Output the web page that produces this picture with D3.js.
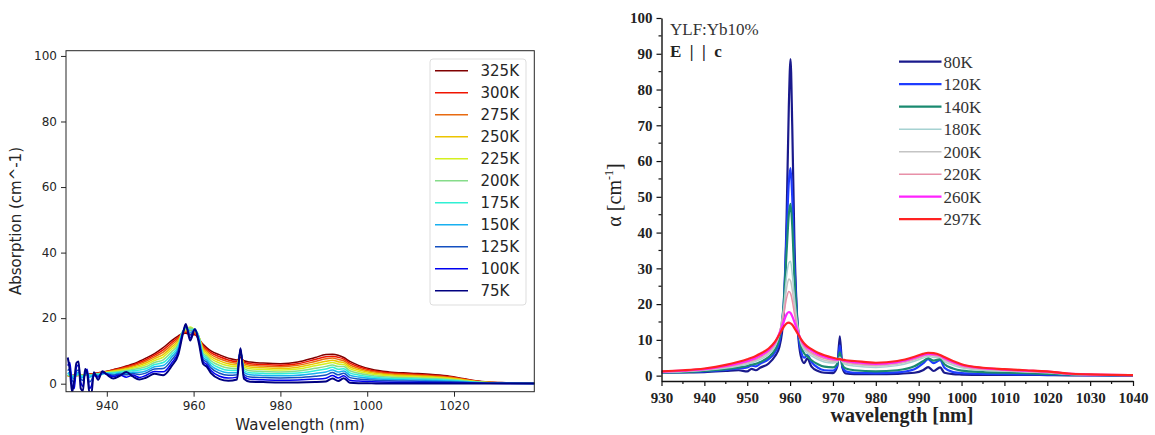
<!DOCTYPE html>
<html><head><meta charset="utf-8">
<script src="https://cdn.jsdelivr.net/npm/d3@7"></script>
<style>body{margin:0;background:#fff}svg{display:block}</style></head>
<body><svg id="chart" width="1155" height="435"></svg>
<script>
// ---------- LEFT PANEL DATA ----------
const leftWavelength = [931,931.5,932,932.5,933,933.5,934,934.5,935,935.5,936,936.5,937,938,939,940,941.5,943,944.5,946,947.5,949,951,953,955,956.5,957.5,958.2,959.2,960.3,961.2,962.2,963,964,966,968,970,970.8,971.6,973,976,980,984,988,990.5,992,993.3,994.6,996,998,1001,1005,1010,1015,1019,1022,1025,1028,1032,1039];
const leftTemps = ["325K","300K","275K","250K","225K","200K","175K","150K","125K","100K","75K"];
const abs325K = [2.4,2.45,2.5,2.55,2.6,2.65,2.7,2.75,2.8,2.9,3.0,3.05,3.1,3.3,3.55,3.8,4.3,4.8,5.4,6.0,6.85,7.8,9.2,11.0,13.2,14.6,15.3,15.4,15.0,14.9,13.6,12.0,11.0,10.0,8.8,7.8,7.2,8.0,7.0,6.6,6.3,6.1,6.6,8.0,8.9,9.0,8.7,8.0,6.8,5.6,4.4,3.6,3.2,2.8,2.3,1.6,0.9,0.5,0.3,0.15];
const abs300K = [2.4,2.45,2.5,2.5,2.5,2.55,2.6,2.65,2.7,2.8,2.9,2.95,3.0,3.2,3.45,3.72,4.15,4.61,5.15,5.70,6.45,7.32,8.70,10.33,12.58,14.15,15.4,15.7,15.6,15.2,13.9,11.52,10.54,9.46,8.21,7.25,6.73,8.4,6.56,6.12,5.84,5.64,6.1,7.4,8.24,8.41,8.07,7.5,6.28,5.16,4.06,3.32,2.95,2.58,2.12,1.48,0.83,0.46,0.28,0.14];
const abs275K = [2.4,2.4,2.4,2.45,2.5,2.55,2.6,2.65,2.7,2.75,2.8,2.85,2.9,3.1,3.35,3.64,4.0,4.42,4.9,5.39,6.05,6.84,8.21,9.66,11.97,13.7,15.6,16.0,16.3,15.6,14.2,11.04,10.07,8.91,7.62,6.7,6.26,8.8,6.12,5.64,5.37,5.19,5.61,6.8,7.59,7.82,7.44,6.99,5.76,4.73,3.71,3.03,2.7,2.36,1.94,1.35,0.76,0.43,0.26,0.13];
const abs250K = [2.4,2.4,2.4,2.45,2.5,2.5,2.5,2.55,2.6,2.65,2.7,2.75,2.8,3.0,3.3,3.55,3.85,4.2,4.6,5.05,5.6,6.3,7.65,8.9,11.28,13.2,15.8,16.3,17.0,16.0,14.4,10.5,9.55,8.3,6.95,6.08,5.73,9.2,5.63,5.1,4.85,4.68,5.05,6.13,6.85,7.15,6.73,6.43,5.18,4.24,3.33,2.71,2.41,2.11,1.74,1.21,0.69,0.39,0.24,0.12];
const abs225K = [2.5,2.45,2.4,2.5,2.6,2.55,2.5,2.6,2.7,2.65,2.6,2.7,2.8,2.9,3.2,3.46,3.7,3.98,4.3,4.71,5.2,5.76,7.09,8.14,10.58,12.7,15.9,16.6,17.3,16.3,14.5,9.96,9.03,7.69,6.28,5.45,5.19,9.5,5.13,4.56,4.33,4.16,4.49,5.45,6.11,6.48,6.01,5.86,4.59,3.75,2.94,2.39,2.13,1.87,1.54,1.07,0.61,0.35,0.22,0.11];
const abs200K = [2.5,2.6,2.5,2.4,2.6,2.7,2.6,2.5,2.7,2.9,2.8,2.7,2.9,3.0,3.2,3.36,3.5,3.74,4.0,4.33,4.7,5.16,6.47,7.3,9.81,12.14,16.0,16.8,17.0,16.5,14.5,9.36,8.45,7.01,5.54,4.76,4.6,9.8,4.58,3.96,3.75,3.59,3.87,4.7,5.29,5.74,5.22,5.23,3.94,3.2,2.51,2.04,1.81,1.59,1.31,0.92,0.53,0.3,0.19,0.1];
const abs175K = [2.6,2.8,2.4,2.2,2.7,2.9,2.5,2.3,2.7,3.0,2.6,2.5,2.8,2.9,3.1,3.26,3.3,3.5,3.7,3.95,4.2,4.56,5.85,6.46,9.04,11.58,16.0,17.0,16.4,16.6,14.3,8.76,7.87,6.33,4.8,4.07,4.01,10.0,4.03,3.36,3.17,3.02,3.25,3.95,4.47,5.0,4.43,4.6,3.29,2.66,2.08,1.68,1.5,1.32,1.09,0.76,0.44,0.26,0.17,0.09];
const abs150K = [3.0,3.6,2.0,1.6,3.0,3.4,2.2,1.8,2.8,3.2,2.0,2.3,2.8,2.6,2.9,3.15,2.9,3.24,3.2,3.53,3.5,3.9,5.17,5.54,8.2,10.96,15.8,17.2,15.6,16.6,14.0,8.1,7.23,5.58,3.99,3.32,3.37,10.2,3.43,2.7,2.53,2.4,2.57,3.13,3.57,4.19,3.57,3.91,2.58,2.06,1.6,1.29,1.15,1.01,0.84,0.59,0.34,0.21,0.14,0.08];
const abs125K = [4.0,4.6,1.0,0.4,3.8,4.2,1.5,1.0,3.0,3.6,0.5,1.2,2.8,2.3,3.3,3.04,2.6,2.98,2.7,3.11,2.8,3.24,4.49,4.62,7.35,10.34,15.6,17.4,14.8,16.6,13.5,7.44,6.59,4.83,3.18,2.56,2.72,10.4,2.82,2.04,1.89,1.77,1.89,2.3,2.67,3.38,2.7,3.21,1.86,1.46,1.13,0.9,0.81,0.71,0.59,0.42,0.25,0.16,0.11,0.07];
const abs100K = [5.5,6.5,-0.5,-1.5,5.0,5.8,0.5,-0.8,3.5,4.4,-1.5,-0.5,2.5,2.0,3.5,2.92,2.2,2.69,2.0,2.66,1.9,2.52,3.74,3.61,6.42,9.67,15.3,17.8,14.0,16.6,13.0,6.72,5.9,4.02,2.29,1.73,2.01,10.6,2.16,1.32,1.2,1.08,1.14,1.4,1.68,2.49,1.75,2.46,1.08,0.8,0.62,0.48,0.43,0.38,0.32,0.23,0.15,0.1,0.08,0.06];
const abs75K = [8.0,4.0,-2.5,1.0,6.3,6.8,-1.5,-2.2,4.5,3.0,-2.8,-2.5,3.5,1.2,3.8,2.8,1.6,2.4,3.6,2.2,1.3,1.8,3.0,2.6,5.5,9.0,15.0,18.2,13.2,16.6,12.5,6.0,5.2,3.2,1.4,0.9,1.3,10.8,1.5,0.6,0.5,0.4,0.4,0.5,0.7,1.6,0.8,1.7,0.3,0.15,0.1,0.05,0.05,0.05,0.05,0.05,0.05,0.05,0.05,0.05];
const leftXTicks = [940,960,980,1000,1020];
const leftYTicks = [0,20,40,60,80,100];

// ---------- RIGHT PANEL DATA ----------
const rightWavelength = [930,935,940,945,948,950,951,952,953,955,956.5,957.5,958.5,959.2,959.7,960.1,960.5,961,961.7,962.5,963.3,964,965,966.5,968,970,971,971.6,972.2,973,975,980,985,989,991,992.2,993.5,995,996,998,1000,1005,1010,1015,1020,1025,1030,1035,1040];
const rightTemps = ["80K","120K","140K","180K","200K","220K","260K","297K"];
const alpha80K  = [0.9,0.9,1.0,1.3,1.5,1.2,1.9,1.5,2.2,3.4,5.5,8.0,17.0,45.0,75.0,88.5,70.0,38.0,15.0,5.5,3.5,4.8,2.5,1.3,0.8,0.7,2.5,11.0,2.2,0.6,0.4,0.4,0.5,0.8,1.5,2.4,1.3,2.3,0.8,0.4,0.3,0.2,0.2,0.2,0.15,0.1,0.1,0.1,0.1];
const alpha120K = [0.9,1.0,1.2,1.6,2.0,2.3,2.8,2.6,3.3,4.6,6.6,9.5,20.0,40.0,54.0,58.0,50.0,32.0,15.0,7.0,5.0,5.8,3.8,2.2,1.5,1.4,2.8,8.5,2.5,1.2,0.8,0.7,0.9,1.8,3.4,4.6,3.5,4.3,2.2,1.0,0.7,0.5,0.4,0.35,0.3,0.2,0.15,0.1,0.1];
const alpha140K = [0.9,1.0,1.3,1.8,2.3,2.7,3.1,3.3,3.8,5.2,7.3,10.5,20.0,35.0,45.0,48.0,42.0,28.0,15.0,8.5,6.2,5.4,4.3,3.2,2.5,2.3,3.2,6.5,3.0,2.0,1.5,1.2,1.5,2.6,4.0,4.8,4.2,4.6,3.2,2.0,1.4,1.0,0.8,0.7,0.5,0.3,0.2,0.12,0.1];
const alpha180K = [0.9,1.1,1.5,2.1,2.7,3.2,3.6,4.0,4.5,6.0,8.2,11.5,19.0,28.0,31.5,32.0,28.5,22.0,14.5,9.2,7.2,6.3,5.5,4.5,3.8,3.5,3.8,5.2,3.7,3.1,2.7,2.3,2.8,4.0,4.9,5.4,5.1,5.1,4.0,2.9,2.2,1.5,1.3,1.0,0.8,0.4,0.25,0.16,0.12];
const alpha200K = [1.0,1.2,1.6,2.3,3.0,3.5,3.9,4.3,4.9,6.4,8.6,11.8,18.0,24.5,27.0,26.5,24.0,19.5,13.8,9.6,7.7,6.8,6.0,5.0,4.3,3.9,4.1,4.8,3.9,3.5,3.1,2.7,3.2,4.4,5.3,5.7,5.5,5.3,4.4,3.3,2.5,1.7,1.4,1.1,0.85,0.42,0.26,0.17,0.13];
const alpha220K = [1.0,1.3,1.7,2.5,3.2,3.8,4.2,4.6,5.2,6.8,9.0,12.0,17.0,21.8,23.5,23.0,21.0,17.5,13.2,10.0,8.2,7.2,6.4,5.5,4.8,4.3,4.3,4.7,4.1,3.8,3.4,3.0,3.5,4.7,5.5,5.9,5.7,5.4,4.6,3.5,2.7,1.9,1.5,1.2,0.95,0.48,0.29,0.18,0.14];
const alpha260K = [1.1,1.4,1.8,2.7,3.5,4.1,4.5,5.0,5.6,7.2,9.3,11.8,15.0,17.2,17.8,17.5,16.6,15.0,12.6,10.2,8.6,7.8,7.0,6.0,5.3,4.7,4.5,4.6,4.3,4.1,3.8,3.3,3.8,5.0,5.8,6.1,6.0,5.6,4.9,3.8,3.0,2.1,1.7,1.4,1.1,0.55,0.32,0.19,0.14];
const alpha297K = [1.2,1.5,2.0,3.0,3.9,4.6,5.0,5.5,6.1,7.6,9.5,11.5,13.6,14.6,14.8,14.6,14.2,13.3,11.9,10.3,9.0,8.2,7.4,6.4,5.7,5.0,4.7,4.6,4.5,4.3,4.1,3.6,4.1,5.3,6.1,6.4,6.3,5.8,5.2,4.1,3.2,2.2,1.8,1.5,1.2,0.6,0.35,0.2,0.15];
const rightXTicks = [930,940,950,960,970,980,990,1000,1010,1020,1030,1040];
const rightYTicks = [0,10,20,30,40,50,60,70,80,90,100];

// ---------- STYLES ----------
const leftColors = ["#800000","#f01400","#e86a10","#ecc400","#d4f020","#86dc8a","#30f0d4","#18b0f0","#1450c0","#0000f0","#000080"];
const rightColors = ["#1a1a8c","#1e3cff","#1a8a70","#a6d2d2","#c4c4c4","#e890a8","#ff22ff","#ff2222"];

const leftSeries = [abs325K,abs300K,abs275K,abs250K,abs225K,abs200K,abs175K,abs150K,abs125K,abs100K,abs75K];
const rightSeries = [alpha80K,alpha120K,alpha140K,alpha180K,alpha200K,alpha220K,alpha260K,alpha297K];

const svg = d3.select("#chart");
const sans = "'DejaVu Sans', sans-serif";
const serif = "'Liberation Serif', 'DejaVu Serif', serif";

// ================= LEFT =================
const L = {x0:66, x1:534.3, y0:50.7, y1:391.7};
const xL = d3.scaleLinear([930.6,1038.5],[L.x0,L.x1]);
const yL = d3.scaleLinear([-2.44,101.6],[L.y1,L.y0]);

svg.append("clipPath").attr("id","clipL").append("rect")
  .attr("x",L.x0).attr("y",L.y0).attr("width",L.x1-L.x0).attr("height",L.y1-L.y0);

const gL = svg.append("g").attr("clip-path","url(#clipL)");
const lineL = d3.line().curve(d3.curveMonotoneX);
leftSeries.forEach((s,i)=>{
  gL.append("path")
    .attr("d", lineL(leftWavelength.map((w,j)=>[xL(w), yL(s[j])])))
    .attr("fill","none").attr("stroke",leftColors[i])
    .attr("stroke-width", i===10 ? 2 : 1.5).attr("stroke-linejoin","round");
});

const axL = svg.append("g").attr("transform",`translate(0,${L.y1})`)
  .call(d3.axisBottom(xL).tickValues(leftXTicks).tickSize(5).tickPadding(5).tickFormat(d3.format("d")));
const ayL = svg.append("g").attr("transform",`translate(${L.x0},0)`)
  .call(d3.axisLeft(yL).tickValues(leftYTicks).tickSize(5).tickPadding(4).tickFormat(d3.format("d")));
[axL,ayL].forEach(a=>{
  a.select(".domain").remove();
  a.selectAll("line").attr("stroke","#262626");
  a.selectAll("text").attr("font-family",sans).attr("font-size",12).attr("fill","#262626");
});
svg.append("rect").attr("x",L.x0).attr("y",L.y0).attr("width",L.x1-L.x0).attr("height",L.y1-L.y0)
  .attr("fill","none").attr("stroke","#262626").attr("stroke-width",1);

svg.append("text").attr("x",(L.x0+L.x1)/2).attr("y",430).attr("text-anchor","middle")
  .attr("font-family",sans).attr("font-size",15).attr("fill","#262626").text("Wavelength (nm)");
svg.append("text").attr("transform","translate(21,221) rotate(-90)").attr("text-anchor","middle")
  .attr("font-family",sans).attr("font-size",15).attr("fill","#262626").text("Absorption (cm^-1)");

// legend left
const legL = svg.append("g");
legL.append("rect").attr("x",430).attr("y",59).attr("width",96).attr("height",246).attr("rx",3)
  .attr("fill","#fff").attr("fill-opacity",0.85).attr("stroke","#dddddd");
leftTemps.forEach((t,i)=>{
  const y = 70.7 + i*22;
  legL.append("line").attr("x1",435).attr("x2",468).attr("y1",y).attr("y2",y)
    .attr("stroke",leftColors[i]).attr("stroke-width",1.5);
  legL.append("text").attr("x",480.5).attr("y",y).attr("dy","0.36em")
    .attr("font-family",sans).attr("font-size",15).attr("fill","#262626").text(t);
});

// ================= RIGHT =================
const R = {x0:661.5, x1:1133, y0:18, y1:381};
const xR = d3.scaleLinear([930,1040],[R.x0,R.x1]);
const yR = d3.scaleLinear([-1.5,100],[R.y1,R.y0]);

svg.append("clipPath").attr("id","clipR").append("rect")
  .attr("x",R.x0).attr("y",R.y0-5).attr("width",R.x1-R.x0).attr("height",R.y1-R.y0+5);
const gR = svg.append("g").attr("clip-path","url(#clipR)");
const lineR = d3.line().curve(d3.curveMonotoneX);
rightSeries.forEach((s,i)=>{
  gR.append("path")
    .attr("d", lineR(rightWavelength.map((w,j)=>[xR(w), yR(s[j])])))
    .attr("fill","none").attr("stroke",rightColors[i])
    .attr("stroke-width", (i===3||i===4||i===5) ? 1.5 : 2.2).attr("stroke-linejoin","round");
});

// minor ticks
const minorX = d3.range(935,1040,10);
const minorY = d3.range(5,100,10);
svg.append("g").selectAll("line").data(minorX).join("line")
  .attr("x1",d=>xR(d)).attr("x2",d=>xR(d)).attr("y1",R.y1).attr("y2",R.y1+3)
  .attr("stroke","#111").attr("stroke-width",1.2);
svg.append("g").selectAll("line").data(minorY).join("line")
  .attr("x1",R.x0-3).attr("x2",R.x0).attr("y1",d=>yR(d)).attr("y2",d=>yR(d))
  .attr("stroke","#111").attr("stroke-width",1.2);

const axR = svg.append("g").attr("transform",`translate(0,${R.y1})`)
  .call(d3.axisBottom(xR).tickValues(rightXTicks).tickSize(5).tickSizeOuter(0).tickPadding(6).tickFormat(d3.format("d")));
const ayR = svg.append("g").attr("transform",`translate(${R.x0},0)`)
  .call(d3.axisLeft(yR).tickValues(rightYTicks).tickSize(5).tickSizeOuter(0).tickPadding(4).tickFormat(d3.format("d")));
[axR,ayR].forEach(a=>{
  a.select(".domain").attr("stroke","#111").attr("stroke-width",1.4);
  a.selectAll("line").attr("stroke","#111").attr("stroke-width",1.2);
  a.selectAll("text").attr("font-family",serif).attr("font-weight","bold").attr("font-size",15).attr("fill","#222");
});

svg.append("text").attr("x",902).attr("y",422).attr("text-anchor","middle")
  .attr("font-family",serif).attr("font-weight","bold").attr("font-size",20).attr("fill","#222")
  .text("wavelength [nm]");
const yl = svg.append("text").attr("transform","translate(621,195) rotate(-90)").attr("text-anchor","middle")
  .attr("font-family",serif).attr("font-size",20).attr("fill","#222");
yl.append("tspan").text("α [cm");
yl.append("tspan").attr("dy",-8).attr("font-size",12).text("-1");
yl.append("tspan").attr("dy",8).text("]");

svg.append("text").attr("x",670).attr("y",35).attr("font-family",serif).attr("font-size",17)
  .attr("fill","#333").text("YLF:Yb10%");
svg.append("text").attr("x",670).attr("y",57).attr("font-family",serif).attr("font-weight","bold")
  .attr("font-size",17).attr("fill","#222").text("E\u2002|\u2002|\u2002c");

// legend right
rightTemps.forEach((t,i)=>{
  const y = 61.7 + i*22.5;
  svg.append("line").attr("x1",899).attr("x2",941.5).attr("y1",y).attr("y2",y)
    .attr("stroke",rightColors[i]).attr("stroke-width",(i===3||i===4||i===5)?1.5:2.2);
  svg.append("text").attr("x",943.5).attr("y",y).attr("dy","0.35em")
    .attr("font-family",serif).attr("font-size",17).attr("fill","#333").text(t);
});
</script></body></html>
